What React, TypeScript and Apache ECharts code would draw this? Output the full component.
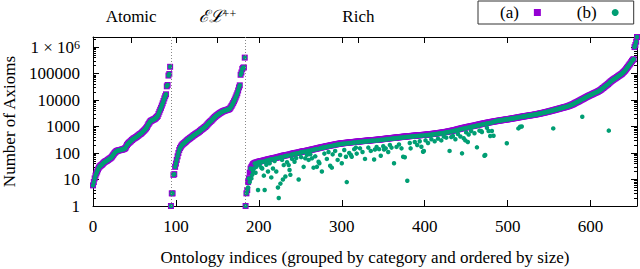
import React, { useEffect, useRef } from 'react';
import * as echarts from 'echarts';

// Atomic ontologies (indices 0..93), number of axioms, series (a)
const atomicA = [
  6, 8, 11, 14, 17, 20, 24, 28, 31, 33,
  35, 37, 40, 43, 46, 48, 50, 52, 55, 58,
  61, 64, 68, 74, 82, 90, 100, 108, 115, 120,
  123, 126, 128, 130, 132, 135, 138, 141, 145, 155,
  175, 200, 220, 240, 255, 270, 290, 310, 330, 350,
  365, 380, 400, 420, 445, 470, 500, 525, 550, 590,
  630, 680, 730, 790, 860, 950, 1100, 1250, 1400, 1550,
  1650, 1700, 1780, 1850, 1900, 2000, 2150, 2300, 2500, 3000,
  3600, 4300, 5100, 6200, 7500, 9200, 11500, 14000, 16500, 33000,
  37000, 84000, 96000, 180000,
];
// EL++ ontologies (indices 94..183), series (a)
const elA = [
  1, 3, 3, 15, 16, 30, 40, 55, 75, 100,
  130, 155, 175, 195, 212, 225, 240, 255, 270, 290,
  310, 330, 345, 365, 385, 405, 430, 455, 480, 505,
  530, 555, 580, 610, 640, 680, 730, 770, 810, 860,
  910, 960, 1020, 1100, 1200, 1300, 1400, 1500, 1600, 1700,
  1850, 2000, 2150, 2300, 2450, 2600, 2750, 2900, 3050, 3200,
  3350, 3500, 3650, 3800, 3900, 4000, 4100, 4200, 4300, 4400,
  4550, 4800, 5300, 6000, 6800, 7800, 9000, 10500, 12500, 15000,
  18000, 23000, 30000, 36000, 90000, 110000, 150000, 165000, 170000, 400000,
];
// Rich ontologies (indices 184..656), series (a)
const richA = [
  1, 3, 4, 8, 11, 18, 26, 30, 34, 38,
  40, 42, 43, 44, 45, 46, 47, 48, 49, 50,
  50, 51, 52, 53, 54, 55, 56, 57, 58, 59,
  60, 61, 62, 63, 64, 65, 66, 67, 68, 70,
  71, 72, 74, 75, 77, 78, 80, 81, 82, 83,
  84, 85, 86, 88, 89, 91, 93, 95, 97, 99,
  100, 101, 102, 103, 105, 107, 109, 111, 113, 115,
  117, 118, 119, 120, 122, 124, 126, 128, 130, 133,
  135, 137, 139, 142, 144, 146, 149, 151, 154, 157,
  160, 162, 165, 168, 170, 172, 175, 178, 181, 184,
  186, 189, 192, 195, 198, 201, 204, 207, 210, 213,
  216, 219, 222, 225, 228, 230, 232, 234, 236, 238,
  240, 242, 244, 246, 248, 250, 252, 254, 256, 258,
  260, 262, 264, 266, 268, 270, 272, 274, 276, 278,
  280, 282, 284, 286, 288, 290, 292, 294, 296, 298,
  300, 302, 304, 306, 308, 310, 312, 314, 316, 318,
  320, 322, 325, 328, 331, 334, 337, 340, 343, 346,
  349, 352, 355, 358, 361, 364, 367, 370, 373, 376,
  379, 382, 385, 388, 391, 394, 397, 400, 404, 408,
  411, 414, 417, 420, 423, 426, 429, 432, 435, 438,
  441, 444, 447, 450, 453, 456, 459, 462, 465, 468,
  471, 474, 477, 480, 483, 486, 489, 492, 495, 498,
  502, 506, 510, 515, 520, 525, 530, 535, 540, 545,
  550, 556, 562, 568, 574, 580, 586, 592, 598, 605,
  612, 620, 628, 636, 645, 655, 665, 675, 685, 695,
  705, 715, 725, 740, 755, 770, 785, 800, 815, 830,
  845, 860, 875, 890, 905, 920, 935, 950, 965, 980,
  995, 1010, 1025, 1040, 1055, 1070, 1085, 1100, 1120, 1140,
  1160, 1180, 1200, 1220, 1240, 1260, 1280, 1300, 1320, 1340,
  1360, 1380, 1400, 1420, 1440, 1460, 1480, 1500, 1520, 1540,
  1560, 1580, 1600, 1620, 1640, 1660, 1680, 1700, 1720, 1740,
  1760, 1780, 1800, 1820, 1840, 1860, 1880, 1900, 1925, 1950,
  1975, 2000, 2025, 2050, 2075, 2100, 2130, 2160, 2190, 2220,
  2250, 2280, 2310, 2340, 2370, 2400, 2430, 2460, 2490, 2520,
  2550, 2580, 2610, 2640, 2670, 2700, 2730, 2760, 2800, 2840,
  2880, 2920, 2960, 3000, 3050, 3100, 3150, 3200, 3250, 3300,
  3360, 3420, 3480, 3540, 3600, 3670, 3740, 3810, 3880, 3950,
  4030, 4110, 4190, 4270, 4350, 4440, 4530, 4620, 4710, 4800,
  4900, 5000, 5100, 5200, 5300, 5400, 5500, 5600, 5750, 5900,
  6050, 6200, 6400, 6600, 6800, 7000, 7300, 7600, 7900, 8200,
  8500, 8800, 9100, 9500, 9900, 10300, 10700, 11100, 11500, 12000,
  12500, 13000, 13500, 14000, 14500, 15000, 15500, 16000, 16600, 17200,
  17800, 18400, 19000, 19700, 20400, 21100, 22000, 23000, 24000, 25500,
  27000, 28500, 30000, 32000, 34000, 36000, 38000, 40000, 43000, 46000,
  49000, 52000, 55000, 58000, 61000, 64000, 67000, 70000, 74000, 78000,
  82000, 86000, 90000, 95000, 100000, 108000, 115000, 125000, 135000, 150000,
  165000, 180000, 200000, 220000, 240000, 270000, 300000, 330000, 350000, 1000000,
  1200000, 1600000, 2400000,
];
// Rich ontologies (indices 184..656), series (b)
const richB = [
  1, 3, 4, 5, 11, 8, 26, 11, 15, 20,
  26, 40, 18, 30, 43, 4, 45, 35, 47, 28,
  26, 47, 14, 4, 50, 36, 52, 20, 55, 41,
  57, 12, 58, 26, 60, 50, 62, 20, 64, 5,
  2, 68, 7, 70, 55, 10, 35, 76, 13, 78,
  45, 80, 35, 23, 15, 86, 60, 90, 92, 47,
  95, 65, 97, 98, 10, 100, 104, 70, 108, 110,
  30, 112, 63, 115, 85, 118, 55, 122, 90, 126,
  63, 130, 28, 135, 75, 140, 30, 143, 47, 41,
  150, 155, 20, 160, 162, 95, 166, 170, 60, 175,
  110, 180, 33, 185, 28, 89, 194, 197, 120, 202,
  205, 55, 210, 214, 84, 218, 41, 222, 224, 130,
  228, 72, 8, 234, 236, 100, 240, 84, 72, 245,
  247, 140, 250, 160, 95, 256, 258, 260, 150, 264,
  266, 110, 270, 272, 60, 276, 278, 280, 160, 283,
  285, 120, 290, 292, 293, 57, 135, 298, 170, 302,
  305, 140, 310, 79, 315, 318, 180, 135, 325, 150,
  332, 335, 110, 340, 200, 346, 160, 350, 355, 41,
  360, 363, 170, 368, 372, 210, 377, 380, 150, 387,
  72, 393, 69, 400, 402, 9, 408, 410, 240, 150,
  420, 422, 425, 428, 260, 433, 436, 200, 442, 445,
  280, 450, 173, 456, 112, 119, 465, 300, 470, 473,
  240, 480, 485, 490, 330, 500, 505, 510, 280, 518,
  523, 528, 350, 540, 545, 550, 300, 560, 565, 420,
  580, 590, 380, 605, 612, 622, 120, 640, 400, 660,
  440, 680, 690, 330, 718, 730, 520, 760, 775, 420,
  800, 97, 830, 360, 860, 300, 600, 900, 260, 500,
  945, 960, 680, 975, 990, 1000, 560, 1040, 1060, 164,
  1100, 1120, 700, 1160, 680, 620, 1215, 1235, 79, 84,
  1290, 900, 1330, 680, 1350, 440, 1400, 680, 1440, 450,
  1560, 1580, 1600, 1620, 1640, 1660, 1680, 1700, 1720, 1740,
  1760, 1780, 1800, 1820, 1840, 233, 1880, 1900, 1925, 1950,
  1975, 2000, 2025, 2050, 2075, 2100, 2130, 2160, 2190, 850,
  2250, 980, 2310, 1000, 2370, 2400, 2430, 2460, 2490, 2520,
  2550, 2580, 2610, 2640, 2670, 2700, 2730, 2760, 2800, 2840,
  2880, 2920, 2960, 3000, 3050, 3100, 3150, 3200, 3250, 3300,
  3360, 3420, 3480, 3540, 3600, 3670, 3740, 3810, 3880, 3950,
  4030, 850, 4190, 4270, 4350, 4440, 4530, 4620, 4710, 4800,
  4900, 5000, 5100, 5200, 5300, 5400, 5500, 5600, 5750, 5900,
  6050, 6200, 6400, 6600, 6800, 7000, 7300, 7600, 7900, 8200,
  8500, 8800, 9100, 9500, 9900, 10300, 2340, 11100, 11500, 12000,
  12500, 13000, 13500, 14000, 14500, 15000, 15500, 16000, 16600, 17200,
  17800, 18400, 19000, 19700, 20400, 21100, 22000, 23000, 24000, 25500,
  27000, 28500, 30000, 32000, 34000, 36000, 38000, 40000, 700, 46000,
  49000, 52000, 55000, 58000, 61000, 64000, 67000, 70000, 74000, 78000,
  82000, 86000, 90000, 95000, 100000, 108000, 115000, 125000, 135000, 150000,
  165000, 180000, 200000, 220000, 240000, 270000, 300000, 330000, 350000, 1000000,
  1200000, 1600000, 2400000,
];

// In Atomic and EL++ the (b) circles sit exactly on the (a) squares
const atomicB = atomicA;
const elB = elA;

const seriesNames = ['(a)', '(b)'];
const seriesColors = ['#9400d3', '#009e73'];
const xMax = 656;
const yMin = 1;
const yMax = 2400000;
const xTickStep = 100;
const yTickValues = [1, 10, 100, 1000, 10000, 100000, 1000000];
const yTickLabels = ['1', '10', '100', '1000', '10000', '100000', '{m|1 × 10}{s|6}'];
const minorMultipliers = [2, 3, 4, 5, 6, 7, 8, 9];
const categoryLabels = ['Atomic', '{c|ℰℒ}{s|++}', 'Rich'];
const categoryLabelPos = [46, 150, 320];
const categoryBoundaries = [94, 183];

const FONT = "'Liberation Serif', 'DejaVu Serif', serif";
const FS = 17;

function toPoints(values: number[]) {
  return values.map((v, i) => [i, v]);
}

function buildOption() {
  const a = [...atomicA, ...elA, ...richA];
  const b = [...atomicB, ...elB, ...richB];
  const logMax = Math.log10(yMax);
  const minorVals: number[] = [];
  yTickValues.forEach((t) => {
    minorMultipliers.forEach((m) => {
      if (t * m <= yMax) minorVals.push(Math.log10(t * m));
    });
  });
  const majorLog = yTickValues.map((v) => Math.log10(v));
  const textBase = { fontFamily: FONT, fontSize: FS, color: '#000' };
  const rich = {
    m: { fontFamily: FONT, fontSize: FS, color: '#000' },
    c: { fontFamily: FONT, fontSize: FS, color: '#000', fontStyle: 'italic' },
    s: { fontFamily: FONT, fontSize: 12, color: '#000', verticalAlign: 'top' },
  };
  const lineStyle = { color: '#000', width: 1 };
  const line = { show: true, onZero: false, lineStyle };
  const noLine = { show: false, onZero: false };
  const gridBox = { left: 93, right: 3, top: 37, bottom: 63, containLabel: false, outerBoundsMode: 'none' };
  return {
    animation: false,
    textStyle: { fontFamily: FONT },
    grid: [{ ...gridBox }, { ...gridBox }],
    legend: {
      left: 478,
      top: 1,
      orient: 'horizontal',
      align: 'right',
      padding: [3, 15, 3, 22],
      itemGap: 36,
      itemWidth: 7,
      itemHeight: 7,
      borderColor: '#333',
      borderWidth: 1,
      textStyle: { ...textBase, padding: [0, 10, 0, 0] },
      data: [
        { name: seriesNames[0], icon: 'rect' },
        { name: seriesNames[1], icon: 'circle' },
      ],
    },
    xAxis: [
      {
        type: 'value', gridIndex: 0, position: 'bottom', min: 0, max: xMax, interval: xTickStep,
        axisLine: line,
        axisTick: { show: true, inside: true, length: 6, lineStyle },
        axisLabel: { ...textBase, margin: 12, showMaxLabel: false },
        splitLine: { show: false },
        name: 'Ontology indices (grouped by category and ordered by size)',
        nameLocation: 'middle',
        nameGap: 43,
        nameTextStyle: textBase,
      },
      {
        type: 'value', gridIndex: 0, position: 'top', min: 0, max: xMax, interval: xTickStep,
        axisLine: line,
        axisTick: { show: true, inside: true, length: 6, lineStyle },
        axisLabel: { show: false },
        splitLine: { show: false },
      },
      {
        type: 'value', gridIndex: 1, position: 'top', min: 0, max: xMax,
        axisLine: noLine,
        axisTick: { show: true, inside: true, length: 6, lineStyle, customValues: categoryLabelPos },
        axisLabel: {
          ...textBase, margin: 12, customValues: categoryLabelPos, rich,
          formatter: (v: number) => {
            const k = categoryLabelPos.indexOf(Math.round(v));
            return k >= 0 ? categoryLabels[k] : '';
          },
        },
        splitLine: { show: false },
      },
      {
        type: 'value', gridIndex: 1, position: 'bottom', min: 0, max: xMax, show: false,
        axisLine: noLine,
      },
    ],
    yAxis: [
      {
        type: 'log', logBase: 10, gridIndex: 0, position: 'left', min: yMin, max: yMax, interval: 1,
        axisLine: line,
        axisTick: { show: true, inside: true, length: 6, lineStyle },
        axisLabel: {
          ...textBase, margin: 13, rich, showMaxLabel: true,
          formatter: (v: number) => {
            const k = yTickValues.findIndex((t) => Math.abs(Math.log10(t) - Math.log10(v)) < 1e-6);
            return k >= 0 ? yTickLabels[k] : '';
          },
        },
        splitLine: { show: false },
        minorTick: { show: false },
        name: 'Number of Axioms',
        nameLocation: 'middle',
        nameGap: 75,
        nameRotate: 90,
        nameTextStyle: textBase,
      },
      {
        type: 'value', gridIndex: 0, position: 'right', min: 0, max: logMax,
        axisLine: line,
        axisTick: { show: true, inside: true, length: 6, lineStyle, customValues: majorLog },
        axisLabel: { show: false },
        splitLine: { show: false },
      },
      {
        type: 'value', gridIndex: 1, position: 'left', min: 0, max: logMax,
        axisLine: noLine,
        axisTick: { show: true, inside: true, length: 3, lineStyle, customValues: minorVals },
        axisLabel: { show: false },
        splitLine: { show: false },
      },
      {
        type: 'value', gridIndex: 1, position: 'right', min: 0, max: logMax,
        axisLine: noLine,
        axisTick: { show: true, inside: true, length: 3, lineStyle, customValues: minorVals },
        axisLabel: { show: false },
        splitLine: { show: false },
      },
    ],
    series: [
      {
        name: seriesNames[0],
        type: 'scatter',
        xAxisIndex: 0,
        yAxisIndex: 0,
        symbol: 'rect',
        symbolSize: 6,
        itemStyle: { color: seriesColors[0], opacity: 1 },
        data: toPoints(a),
        markLine: {
          silent: true,
          symbol: ['none', 'none'],
          label: { show: false },
          lineStyle: { type: [1, 2], color: '#888', width: 1 },
          data: categoryBoundaries.map((x) => ({ xAxis: x })),
        },
      },
      {
        name: seriesNames[1],
        type: 'scatter',
        xAxisIndex: 0,
        yAxisIndex: 0,
        symbol: 'circle',
        symbolSize: 4.5,
        itemStyle: { color: seriesColors[1], opacity: 1 },
        data: toPoints(b),
      },
    ],
  };
}

export default function App() {
  const ref = useRef<HTMLDivElement>(null);
  useEffect(() => {
    document.body.style.margin = '0';
    const chart = echarts.init(ref.current as HTMLDivElement, null, { renderer: 'svg' });
    chart.setOption(buildOption() as any);
    return () => {
      chart.dispose();
    };
  }, []);
  return <div ref={ref} style={{ width: 640, height: 269 }} />;
}
